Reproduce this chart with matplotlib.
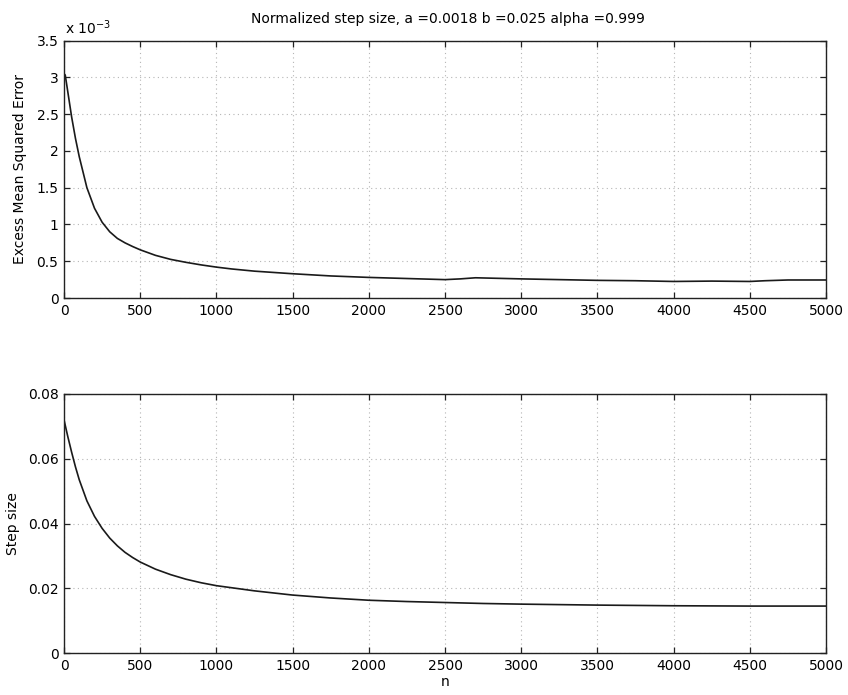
import matplotlib; matplotlib.use("Agg")
import matplotlib.pyplot as plt
from matplotlib.ticker import FuncFormatter
import numpy as np

# --- excess MSE (top) and step size (bottom) vs iteration n ---
n_emse = [0, 8, 25, 50, 75, 100, 150, 200, 250, 300, 350, 400, 450, 500, 600,
          700, 800, 900, 1000, 1100, 1250, 1500, 1750, 2000, 2250, 2500, 2600,
          2700, 2800, 3000, 3250, 3500, 3750, 4000, 4250, 4500, 4600, 4750, 5000]
emse = [3.05e-3, 3.03e-3, 2.80e-3, 2.46e-3, 2.17e-3, 1.92e-3, 1.50e-3, 1.22e-3,
        1.03e-3, 0.90e-3, 0.81e-3, 0.75e-3, 0.70e-3, 0.655e-3, 0.58e-3,
        0.525e-3, 0.485e-3, 0.45e-3, 0.42e-3, 0.395e-3, 0.365e-3, 0.33e-3,
        0.30e-3, 0.28e-3, 0.265e-3, 0.25e-3, 0.26e-3, 0.275e-3, 0.27e-3,
        0.26e-3, 0.25e-3, 0.24e-3, 0.235e-3, 0.225e-3, 0.23e-3, 0.225e-3,
        0.235e-3, 0.245e-3, 0.245e-3]

n_mu = [0, 25, 50, 75, 100, 150, 200, 250, 300, 350, 400, 450, 500, 600, 700,
        800, 900, 1000, 1250, 1500, 1750, 2000, 2250, 2500, 2750, 3000, 3500,
        4000, 4500, 5000]
mu = [0.0720, 0.0668, 0.0620, 0.0575, 0.0535, 0.0470, 0.0422, 0.0385, 0.0355,
      0.0331, 0.0311, 0.0295, 0.0281, 0.0259, 0.0242, 0.0228, 0.0217, 0.0208,
      0.0192, 0.0179, 0.0170, 0.0163, 0.0159, 0.0156, 0.0153, 0.0151, 0.0148,
      0.0146, 0.0145, 0.0145]

title = "Normalized step size, a =0.0018 b =0.025 alpha =0.999"
xticks = range(0, 5001, 500)

plt.rcParams['font.family'] = ['DejaVu Sans']
fig = plt.figure(figsize=(8.48, 6.95), dpi=100)
ax1 = fig.add_axes([0.0755, 0.5712, 0.8986, 0.3705])
ax2 = fig.add_axes([0.0755, 0.0604, 0.8986, 0.3727])

def style(ax):
    ax.set_xlim(0, 5000)
    ax.set_xticks(xticks)
    ax.tick_params(direction='in', length=4.5, width=0.9, top=True, right=True,
                   labelsize=10, pad=4, color='#222222')
    ax.grid(True, color='#b5b5b5', ls=(0, (1, 3)), lw=0.8)
    for s in ax.spines.values():
        s.set_linewidth(1.0); s.set_color('#222222')

ax1.plot(n_emse, emse, color='#1a1a1a', lw=1.2)
style(ax1)
ax1.set_ylim(0, 3.5e-3)
ax1.set_yticks(np.arange(0, 3.51e-3, 0.5e-3))
ax1.yaxis.set_major_formatter(FuncFormatter(lambda v, p: '%g' % round(v * 1e3, 3)))
ax1.set_ylabel('Excess Mean Squared Error', fontsize=10)
ax1.yaxis.set_label_coords(-0.0486, 0.5)
fig.text(65 / 848, 1 - 27.5 / 695, r'x 10$^{-3}$', fontsize=10, ha='left', va='center')

ax2.plot(n_mu, mu, color='#1a1a1a', lw=1.2)
style(ax2)
ax2.set_ylim(0, 0.08)
ax2.set_yticks([0, 0.02, 0.04, 0.06, 0.08])
ax2.yaxis.set_major_formatter(FuncFormatter(lambda v, p: '%g' % round(v, 3)))
ax2.set_ylabel('Step size', fontsize=10)
ax2.yaxis.set_label_coords(-0.0577, 0.5)
ax2.set_xlabel('n', fontsize=10, labelpad=2)

fig.text(448 / 848, 1 - 19 / 695, title, fontsize=10, ha='center', va='center')

fig.savefig("out.png", dpi=100)
